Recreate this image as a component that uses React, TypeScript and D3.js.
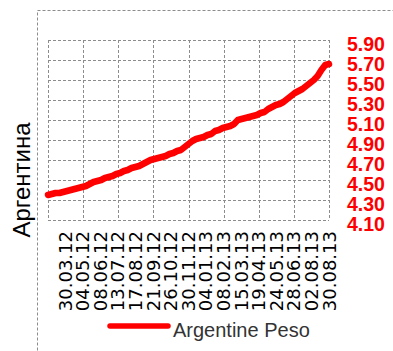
import React from "react";
import * as d3 from "d3";

const xLabels = [
  "30.03.12", "04.05.12", "08.06.12", "13.07.12", "17.08.12", "21.09.12",
  "26.10.12", "30.11.12", "04.01.13", "08.02.13", "15.03.13", "19.04.13",
  "24.05.13", "28.06.13", "02.08.13", "30.08.13",
];

const yTicks = [4.1, 4.3, 4.5, 4.7, 4.9, 5.1, 5.3, 5.5, 5.7, 5.9];

// Weekly ARS rate, 30.03.12 .. 30.08.13
const values = [
  4.35, 4.36, 4.37, 4.37, 4.38, 4.39, 4.40, 4.41, 4.42, 4.43,
  4.44, 4.46, 4.48, 4.49, 4.50, 4.52, 4.53, 4.54, 4.56, 4.57,
  4.59, 4.60, 4.62, 4.63, 4.64, 4.66, 4.68, 4.70, 4.71, 4.72,
  4.73, 4.74, 4.76, 4.77, 4.79, 4.80, 4.83, 4.86, 4.89, 4.91,
  4.92, 4.93, 4.95, 4.96, 4.99, 5.00, 5.02, 5.03, 5.04, 5.06,
  5.10, 5.11, 5.12, 5.13, 5.14, 5.15, 5.17, 5.18, 5.21, 5.23,
  5.25, 5.26, 5.28, 5.31, 5.34, 5.37, 5.39, 5.41, 5.44, 5.47,
  5.50, 5.54, 5.60, 5.65, 5.66,
];

const seriesName = "Argentine Peso";
const yTitle = "Аргентина";

export default function App() {
  const W = 393, H = 351;
  const left = 48, right = 329, top = 40, bottom = 220;

  const x = d3.scaleLinear().domain([0, values.length - 1]).range([left, right]);
  const y = d3.scaleLinear().domain([4.1, 5.9]).range([bottom, top]);
  const gx = d3.scaleLinear().domain([0, 8]).range([left, right]);
  const lx = d3.scalePoint<string>().domain(xLabels).range([65, 329]);

  const line = d3.line<number>().x((_, i) => x(i)).y((d) => y(d)).curve(d3.curveLinear);

  const dash = "3,2";
  const gridColor = "#8c8c8c";

  return (
    <svg width={W} height={H} style={{ position: "absolute", left: 0, top: 0 }}>
      <rect x={37.5} y={10.5} width={420} height={420} fill="none" stroke={gridColor} strokeDasharray={dash} />
      {yTicks.map((t) => (
        <line key={"h" + t} x1={left} x2={right} y1={Math.round(y(t)) + 0.5} y2={Math.round(y(t)) + 0.5}
          stroke={gridColor} strokeDasharray={dash} />
      ))}
      {d3.range(9).map((k) => (
        <line key={"v" + k} x1={Math.round(gx(k)) + 0.5} x2={Math.round(gx(k)) + 0.5} y1={top} y2={bottom}
          stroke={gridColor} strokeDasharray={dash} />
      ))}
      <path d={line(values) || ""} fill="none" stroke="#ff0000" strokeWidth={6.5}
        strokeLinejoin="round" strokeLinecap="round" />
      {yTicks.map((t) => (
        <text key={"yl" + t} x={347} y={y(t) + 3.5} dominantBaseline="central" fill="#ff0000"
          fontFamily="Liberation Sans, Arial, sans-serif" fontWeight="bold" fontSize={19.5}>
          {t.toFixed(2)}
        </text>
      ))}
      {xLabels.map((l) => (
        <text key={l} transform={`translate(${lx(l)},231) rotate(-90)`} textAnchor="end"
          dominantBaseline="central" fill="#000" fontFamily="DejaVu Sans, sans-serif" fontSize={18}>
          {l}
        </text>
      ))}
      <text transform={`translate(30,180) rotate(-90)`} textAnchor="middle" fill="#000"
        fontFamily="Liberation Sans, Arial, sans-serif" fontSize={24}>
        {yTitle}
      </text>
      <line x1={110} x2={168} y1={326} y2={326} stroke="#ff0000" strokeWidth={5.5} strokeLinecap="round" />
      <text x={173} y={337} fill="#333" fontFamily="Liberation Sans, Arial, sans-serif" fontSize={20}>
        {seriesName}
      </text>
    </svg>
  );
}
